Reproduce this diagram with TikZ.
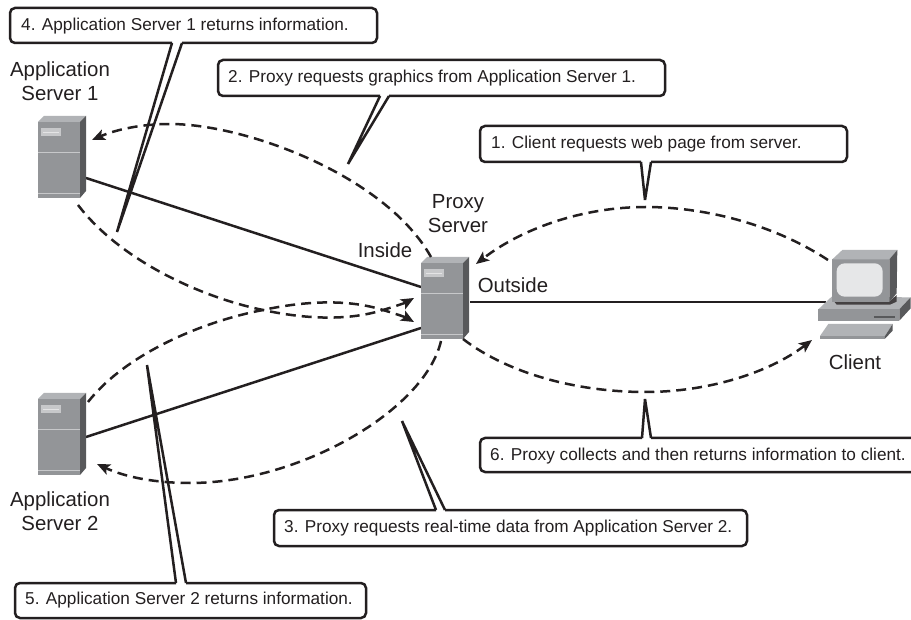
\documentclass[tikz,border=0pt]{standalone}
\usepackage{fontspec}
\setmainfont{Liberation Sans}
\usetikzlibrary{arrows.meta}
\definecolor{ink}{HTML}{231F20}
\definecolor{srvfront}{HTML}{939598}
\definecolor{srvtop}{HTML}{B1B3B6}
\definecolor{srvside}{HTML}{58595B}
\definecolor{srvlight}{HTML}{C7C8CA}
\definecolor{scr}{HTML}{E6E7E8}
\tikzset{
  lbl/.style={text=ink,font=\fontsize{20.4}{24}\selectfont,align=center,inner sep=0pt},
  calltext/.style={text=ink,font=\fontsize{17.2}{20}\selectfont,anchor=west,inner sep=0pt},
  callout/.style={draw=ink,line width=2.5pt,rounded corners=5pt},
  tail/.style={draw=ink,line width=2.5pt,line join=bevel},
  link/.style={draw=ink,line width=2.5pt},
  flow/.style={draw=ink,line width=2.5pt,dash pattern=on 10pt off 6pt,-{Stealth[length=13pt,width=11pt,inset=3pt]}},
  pics/srv/.style={code={
    \fill[srvfront] (0,0) rectangle (42,76);
    \fill[srvtop] (0,0) -- (6,-6) -- (48,-6) -- (42,0) -- cycle;
    \fill[srvside] (42,0) -- (48,-6) -- (48,69) -- (42,76) -- cycle;
    \fill[srvlight] (3,6) rectangle (23,14);
    \draw[white!75!srvfront,line width=.6pt] (5,10) -- (21,10);
    \draw[srvlight,line width=.8pt] (0,30) -- (42,30);
    \draw[srvlight,line width=.8pt] (0,71) -- (42,71);
  }},
}
\newcommand{\balloon}[8]{% l t r b t1 t2 tipx tipy (tail on bottom)
  \draw[callout] (#6,#4) -- (#3,#4) -- (#3,#2) -- (#1,#2) -- (#1,#4) -- (#5,#4);
  \draw[tail] (#5,#4) -- (#7,#8) -- (#6,#4);}
\newcommand{\balloontop}[8]{% tail on top
  \draw[callout] (#6,#2) -- (#3,#2) -- (#3,#4) -- (#1,#4) -- (#1,#2) -- (#5,#2);
  \draw[tail] (#5,#2) -- (#7,#8) -- (#6,#2);}
\begin{document}
\begin{tikzpicture}[x=1pt,y=-1pt]
\useasboundingbox (0,0) rectangle (911,620);
\fill[white] (0,0) rectangle (911,620);

% anchors for links
\coordinate (as1port) at (86,178);
\coordinate (as2port) at (86,437);
\coordinate (pxa) at (421,287);
\coordinate (pxb) at (421,328);
\coordinate (pxc) at (470,302);
\coordinate (clport) at (826,302);

\draw[link] (as1port) -- (pxa);
\draw[link] (as2port) -- (pxb);
\draw[link] (pxc) -- (clport);

% servers
\pic at (38,122) {srv};
\pic at (38,399) {srv};
\pic at (421,263) {srv};

% client
\begin{scope}[shift={(800,240)},x=.3333pt,y=-.3333pt]
  \fill[srvtop] (55,208) -- (95,170) -- (332,172) -- (298,208) -- cycle;
  \fill[srvfront] (55,208) rectangle (298,242);
  \fill[srvside] (298,208) -- (332,172) -- (332,205) -- (298,242) -- cycle;
  \fill[ink!85] (103,185) -- (268,185) -- (290,165) -- (290,185) -- (270,194) -- (110,194) -- cycle;
  \draw[srvside,line width=1.2pt] (222,231) -- (285,231);
  \fill[srvtop] (60,288) -- (85,252) -- (278,252) -- (255,288) -- cycle;
  \fill[srvfront] (60,288) rectangle (255,296);
  \fill[srvside] (255,288) -- (278,252) -- (278,272) -- (255,296) -- cycle;
  \fill[srvfront] (97,58) rectangle (268,185);
  \fill[srvtop] (97,58) -- (127,30) -- (292,30) -- (268,58) -- cycle;
  \fill[srvside] (268,58) -- (292,30) -- (290,160) -- (268,185) -- cycle;
  \fill[scr,rounded corners=8pt] (110,70) rectangle (248,170);
\end{scope}

% labels
\node[lbl] (as1) at (60,81) {Application\\Server 1};
\node[lbl] (as2) at (60,511) {Application\\Server 2};
\node[lbl] (px) at (458,214) {Proxy\\Server};
\node[lbl] (inside) at (385,250) {Inside};
\node[lbl] (outside) at (513,285) {Outside};
\node[lbl] (client) at (855,362) {Client};

% flows
\draw[flow] (828,260) .. controls (770,222) and (700,207) .. (646,207) .. controls (580,207) and (520,230) .. (476,264);
\draw[flow] (463,339) .. controls (510,375) and (580,392) .. (645,392) .. controls (710,392) and (770,372) .. (812,340);
\draw[flow] (431,257) .. controls (385,175) and (245,124) .. (170,124) .. controls (140,124) and (115,130) .. (92,140);
\draw[flow] (78,205) .. controls (120,260) and (200,297) .. (263,310) .. controls (300,318) and (345,322) .. (383,310) .. controls (393,307) and (405,303) .. (414,298);
\draw[flow] (88,402) .. controls (125,355) and (200,322) .. (263,310) .. controls (300,302) and (345,298) .. (383,310) .. controls (393,313) and (405,317) .. (414,322);
\draw[flow] (441,341) .. controls (425,410) and (300,483) .. (190,483) .. controls (155,483) and (125,477) .. (97,464);

% callouts
\balloon{10}{8}{377}{43}{172}{182}{117}{232}
\node[calltext] (c4) at (21,26) {4. Application Server 1 returns information.};
\balloon{218}{60}{665}{96}{380}{389}{348}{164}
\node[calltext] (c2) at (228,78) {2. Proxy requests graphics from Application Server 1.};
\balloon{480}{126}{847}{162}{641}{651}{645}{200}
\node[calltext] (c1) at (491,144) {1. Client requests web page from server.};
\balloontop{480}{438}{930}{472}{642}{651}{645}{399}
\node[calltext] (c6) at (490,456) {6. Proxy collects and then returns information to client.};
\balloontop{274}{510}{747}{546}{436}{445}{402}{421}
\node[calltext] (c3) at (284,528) {3. Proxy requests real-time data from Application Server 2.};
\balloontop{15}{583}{366}{618}{176}{186}{147}{365}
\node[calltext] (c5) at (25,600) {5. Application Server 2 returns information.};
\end{tikzpicture}
\end{document}
